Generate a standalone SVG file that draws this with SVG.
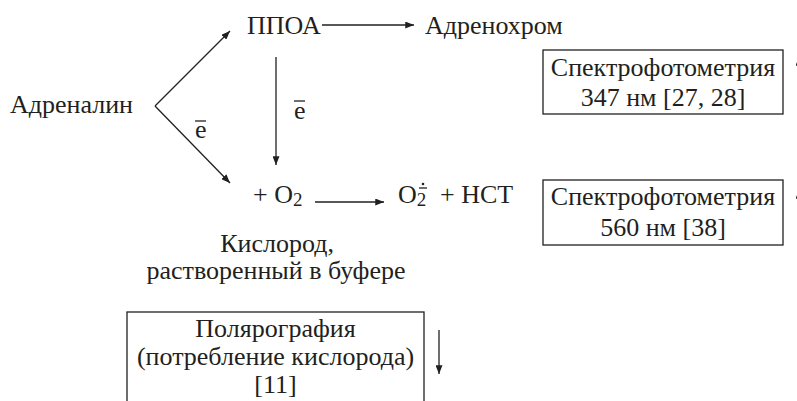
<svg xmlns="http://www.w3.org/2000/svg" width="797" height="401" viewBox="0 0 797 401">
<style>
.t{font-size:26px;fill:#231f20}
.c{text-anchor:middle}
.ln{stroke:#231f20;stroke-width:1.3;fill:none}
.box{stroke:#231f20;stroke-width:1.3;fill:#fff}
</style>
<defs>
<marker id="ah" viewBox="0 0 10 8" refX="10" refY="4" markerWidth="9" markerHeight="7" markerUnits="userSpaceOnUse" orient="auto">
<path d="M0,0 L10,4 L0,8 z" fill="#231f20"/>
</marker>
</defs>
<rect width="797" height="401" fill="#fff"/>
<g id="connectors">
<line class="ln" x1="155" y1="106" x2="230" y2="31" marker-end="url(#ah)"/>
<line class="ln" x1="155" y1="106" x2="230" y2="183" marker-end="url(#ah)"/>
<line class="ln" x1="276" y1="57" x2="276" y2="165" marker-end="url(#ah)"/>
<line class="ln" x1="322" y1="25" x2="414" y2="25" marker-end="url(#ah)"/>
<line class="ln" x1="315" y1="202" x2="384" y2="202" marker-end="url(#ah)"/>
<line class="ln" x1="439" y1="330" x2="439" y2="374" marker-end="url(#ah)"/>
<line class="ln" x1="799" y1="100" x2="799" y2="57" marker-end="url(#ah)"/>
<line class="ln" x1="799" y1="235" x2="799" y2="190" marker-end="url(#ah)"/>
</g>
<g class="t" font-family="Liberation Serif, Times New Roman, serif">
<g id="e1">
<text x="195" y="138">e</text>
<line class="ln" x1="195" y1="121" x2="206" y2="121"/>
</g>
<g id="e2">
<text x="294" y="119">e</text>
<line class="ln" x1="294" y1="101" x2="305" y2="101"/>
</g>
<g id="adrenalin"><text x="10" y="113">Адреналин</text></g>
<g id="ppoa"><text x="247" y="34">ППОА</text></g>
<g id="adrenochrom"><text x="425" y="34">Адренохром</text></g>
<g id="o2"><text x="253" y="203">+ O<tspan font-size="19" dy="3">2</tspan></text></g>
<g id="superoxide">
<text x="398" y="203">O<tspan font-size="19" dy="3">2</tspan></text>
<line class="ln" x1="419" y1="188" x2="427" y2="188"/>
<circle cx="423" cy="184" r="1.3" fill="#231f20"/>
</g>
<g id="nst"><text x="440" y="203">+ НСТ</text></g>
<g id="oxygen-label">
<text class="c" x="277" y="252">Кислород,</text>
<text class="c" x="276" y="279">растворенный в буфере</text>
</g>
<g id="box1">
<rect class="box" x="543" y="50" width="240" height="64"/>
<text class="c" x="663" y="76">Спектрофотометрия</text>
<text class="c" x="663" y="106">347 нм [27, 28]</text>
</g>
<g id="box2">
<rect class="box" x="543" y="180" width="240" height="65"/>
<text class="c" x="663" y="205">Спектрофотометрия</text>
<text class="c" x="663" y="236">560 нм [38]</text>
</g>
<g id="box3">
<rect class="box" x="127" y="312" width="297" height="110"/>
<text class="c" x="275.5" y="337">Полярография</text>
<text class="c" x="275.5" y="365">(потребление кислорода)</text>
<text class="c" x="275.5" y="393">[11]</text>
</g>
</g>
</svg>
